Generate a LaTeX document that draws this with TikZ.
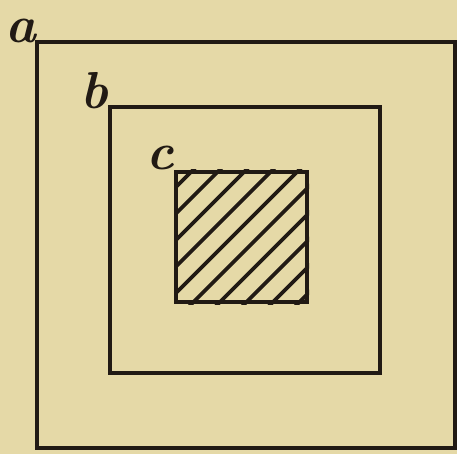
\documentclass[tikz,border=0pt]{standalone}
\usepackage{tikz}
\usetikzlibrary{positioning}
\definecolor{papertan}{RGB}{229,217,167}
\definecolor{inkdark}{RGB}{33,26,20}

\begin{document}
\begin{tikzpicture}[
  x=1pt, y=-1pt,
  sqbox/.style={rectangle, draw=inkdark, line width=4pt, inner sep=0pt},
  lettr/.style={inner sep=0pt, text=inkdark,
    font=\fontsize{52}{54}\selectfont\bfseries\itshape},
  hatch/.style={draw=inkdark, line width=3.6pt},
]
% paper
\fill[papertan] (0,0) rectangle (457,454);

% the three squares
\node[sqbox, minimum width=418pt, minimum height=406pt] (outer) at (246,245) {};
\node[sqbox, minimum width=270pt, minimum height=266pt] (middle) at (245,240) {};
\node[sqbox, minimum width=131pt, minimum height=130pt] (inner) at (241.5,237) {};

% hatching of c
\begin{scope}
  \clip (inner.north west) rectangle (inner.south east);
  \foreach \s in {363,389.5,...,605}
    \draw[hatch] (\s-330,330) -- (\s-150,150);
\end{scope}
\node[sqbox, minimum width=131pt, minimum height=130pt] at (inner) {};

% letters
\node[lettr, above left=-3pt and -1pt of outer.north west] (la) {a};
\node[lettr, left=0pt of middle.north west, yshift=14pt] (lb) {b};
\node[lettr, above left=0pt and 0pt of inner.north west] (lc) {c};
\end{tikzpicture}
\end{document}
